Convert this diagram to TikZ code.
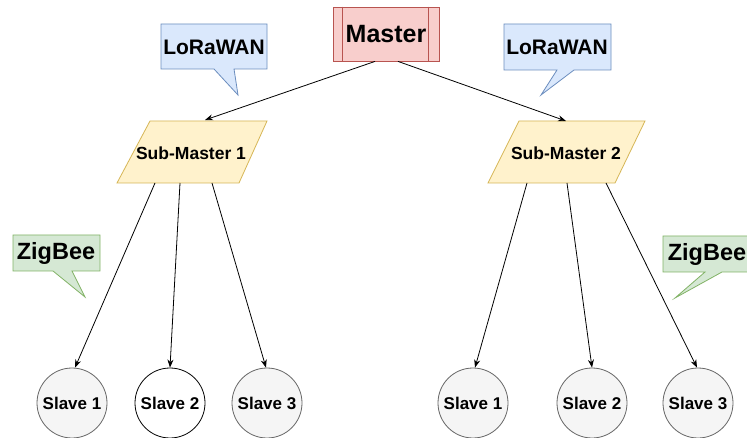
\documentclass[tikz,border=0pt]{standalone}
\usepackage{fontspec}
\setmainfont{Liberation Sans}
\usetikzlibrary{arrows.meta}
\definecolor{mfill}{HTML}{F8CECC}
\definecolor{mdraw}{HTML}{B85450}
\definecolor{bfill}{HTML}{DAE8FC}
\definecolor{bdraw}{HTML}{6C8EBF}
\definecolor{yfill}{HTML}{FFF2CC}
\definecolor{ydraw}{HTML}{D6B656}
\definecolor{gfill}{HTML}{D5E8D4}
\definecolor{gdraw}{HTML}{82B366}
\definecolor{sfill}{HTML}{F5F5F5}
\definecolor{sdraw}{HTML}{666666}
\tikzset{
  lbl/.style={font=\bfseries\fontsize{#1}{#1}\selectfont, inner sep=0pt},
  slave/.style={circle, draw=sdraw, fill=sfill, line width=0.8pt, minimum size=70pt, inner sep=0pt, font=\bfseries\fontsize{17}{17}\selectfont},
  conn/.style={line width=0.8pt, -{Stealth[length=8pt,width=6pt]}},
  callb/.style={fill=bfill, draw=bdraw, line width=0.8pt},
  callg/.style={fill=gfill, draw=gdraw, line width=0.8pt},
  para/.style={fill=yfill, draw=ydraw, line width=0.8pt},
}
\begin{document}
\begin{tikzpicture}[x=1pt,y=-1pt]
\useasboundingbox (0,0) rectangle (747,438);
\clip (0,0) rectangle (747,438);
\fill[white] (0,0) rectangle (747,438);

% Master
\node[draw=mdraw, fill=mfill, line width=0.8pt, minimum width=106pt, minimum height=54pt, inner sep=0pt, font=\bfseries\fontsize{25}{25}\selectfont] (m) at (386,34) {Master};
\draw[mdraw, line width=0.8pt] ([xshift=10pt]m.north west) -- ([xshift=10pt]m.south west);
\draw[mdraw, line width=0.8pt] ([xshift=-11pt]m.north east) -- ([xshift=-11pt]m.south east);

% LoRaWAN callouts
\draw[callb] (161,24) -- (267,24) -- (267,69) -- (234,69) -- (238,95) -- (214,69) -- (161,69) -- cycle;
\node[lbl=21] (lw1) at (214,47) {LoRaWAN};
\draw[callb] (504,24) -- (611,24) -- (611,70) -- (574,70) -- (541,95) -- (557,70) -- (504,70) -- cycle;
\node[lbl=21] (lw2) at (557,47) {LoRaWAN};

% ZigBee callouts
\draw[callg] (13,235) -- (100,235) -- (100,271) -- (72,271) -- (85,297) -- (53,271) -- (13,271) -- cycle;
\node[lbl=23.5] (zb1) at (56,253) {ZigBee};
\draw[callg] (663,236) -- (752,236) -- (752,272) -- (722,272) -- (675,298) -- (705,272) -- (663,272) -- cycle;
\node[lbl=23.5] (zb2) at (707,254) {ZigBee};

% Sub-Masters
\draw[para] (150,121) -- (267,121) -- (239,183) -- (117,183) -- cycle;
\node[lbl=17.5] (sm1) at (191,153) {Sub-Master 1};
\draw[para] (519,121) -- (645,121) -- (615,183) -- (488,183) -- cycle;
\node[lbl=17.5] (sm2) at (566,153) {Sub-Master 2};

\coordinate (sm1t) at (205,120);
\coordinate (sm2t) at (566,121);
\coordinate (sm1a) at (155,183);
\coordinate (sm1b) at (180,183);
\coordinate (sm1c) at (212,183);
\coordinate (sm2a) at (527,183);
\coordinate (sm2b) at (567,183);
\coordinate (sm2c) at (606,183);

% Slaves
\node[slave] (s11) at (72,403) {Slave 1};
\node[slave, draw=black, fill=white] (s12) at (170,403) {Slave 2};
\node[slave] (s13) at (267,403) {Slave 3};
\node[slave] (s21) at (473,403) {Slave 1};
\node[slave] (s22) at (592,403) {Slave 2};
\node[slave] (s23) at (698,403) {Slave 3};

% Connectors
\draw[conn] ([xshift=-11pt]m.south) -- (sm1t);
\draw[conn] ([xshift=12pt]m.south) -- (sm2t);
\draw[conn] (sm1a) -- ([xshift=3pt]s11.north);
\draw[conn] (sm1b) -- (s12.north);
\draw[conn] (sm1c) -- ([xshift=-1pt]s13.north);
\draw[conn] (sm2a) -- ([xshift=2pt]s21.north);
\draw[conn] (sm2b) -- (s22.north);
\draw[conn] (sm2c) -- ([xshift=-1pt]s23.north);
\end{tikzpicture}
\end{document}
